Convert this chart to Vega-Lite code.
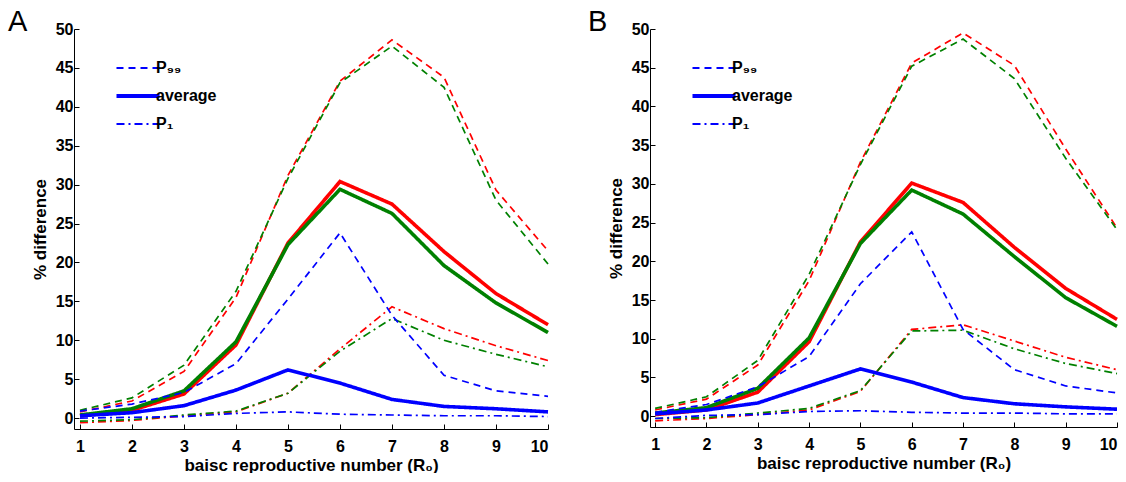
{
  "$schema": "https://vega.github.io/schema/vega-lite/v6.json",
  "padding": {"left": 8, "top": 8, "right": 0, "bottom": 0},
  "background": "white",
  "config": {
    "view": {"stroke": null},
    "font": "Liberation Sans",
    "axis": {
      "grid": false,
      "domainColor": "#000000",
      "tickColor": "#000000",
      "tickSize": -5,
      "labelColor": "#000000",
      "labelFont": "Liberation Sans",
      "labelFontSize": 16,
      "labelFontWeight": "bold",
      "titleFont": "Liberation Sans",
      "titleFontSize": 17,
      "titleFontWeight": "bold",
      "titleColor": "#000000"
    },
    "title": {"fontSize": 29, "fontWeight": "normal", "font": "Liberation Sans", "anchor": "start", "frame": "group", "color": "#000000", "baseline": "alphabetic"}
  },
  "datasets": {
    "A": [
      {"r": 1, "m": "red", "s": "P99", "v": 0.8}, {"r": 2, "m": "red", "s": "P99", "v": 2.2}, {"r": 3, "m": "red", "s": "P99", "v": 6.0}, {"r": 4, "m": "red", "s": "P99", "v": 15.5}, {"r": 5, "m": "red", "s": "P99", "v": 31.2}, {"r": 6, "m": "red", "s": "P99", "v": 43.3}, {"r": 7, "m": "red", "s": "P99", "v": 48.6}, {"r": 8, "m": "red", "s": "P99", "v": 43.8}, {"r": 9, "m": "red", "s": "P99", "v": 29.3}, {"r": 10, "m": "red", "s": "P99", "v": 21.5},
      {"r": 1, "m": "red", "s": "average", "v": 0.3}, {"r": 2, "m": "red", "s": "average", "v": 1.0}, {"r": 3, "m": "red", "s": "average", "v": 3.1}, {"r": 4, "m": "red", "s": "average", "v": 9.4}, {"r": 5, "m": "red", "s": "average", "v": 22.5}, {"r": 6, "m": "red", "s": "average", "v": 30.4}, {"r": 7, "m": "red", "s": "average", "v": 27.5}, {"r": 8, "m": "red", "s": "average", "v": 21.4}, {"r": 9, "m": "red", "s": "average", "v": 16.0}, {"r": 10, "m": "red", "s": "average", "v": 12.0},
      {"r": 1, "m": "red", "s": "P1", "v": -0.6}, {"r": 2, "m": "red", "s": "P1", "v": -0.3}, {"r": 3, "m": "red", "s": "P1", "v": 0.3}, {"r": 4, "m": "red", "s": "P1", "v": 0.8}, {"r": 5, "m": "red", "s": "P1", "v": 3.2}, {"r": 6, "m": "red", "s": "P1", "v": 8.9}, {"r": 7, "m": "red", "s": "P1", "v": 14.3}, {"r": 8, "m": "red", "s": "P1", "v": 11.5}, {"r": 9, "m": "red", "s": "P1", "v": 9.3}, {"r": 10, "m": "red", "s": "P1", "v": 7.4},
      {"r": 1, "m": "green", "s": "P99", "v": 1.0}, {"r": 2, "m": "green", "s": "P99", "v": 2.6}, {"r": 3, "m": "green", "s": "P99", "v": 6.8}, {"r": 4, "m": "green", "s": "P99", "v": 16.3}, {"r": 5, "m": "green", "s": "P99", "v": 30.8}, {"r": 6, "m": "green", "s": "P99", "v": 43.1}, {"r": 7, "m": "green", "s": "P99", "v": 47.8}, {"r": 8, "m": "green", "s": "P99", "v": 42.5}, {"r": 9, "m": "green", "s": "P99", "v": 28.0}, {"r": 10, "m": "green", "s": "P99", "v": 19.8},
      {"r": 1, "m": "green", "s": "average", "v": 0.4}, {"r": 2, "m": "green", "s": "average", "v": 1.2}, {"r": 3, "m": "green", "s": "average", "v": 3.5}, {"r": 4, "m": "green", "s": "average", "v": 9.8}, {"r": 5, "m": "green", "s": "average", "v": 22.3}, {"r": 6, "m": "green", "s": "average", "v": 29.4}, {"r": 7, "m": "green", "s": "average", "v": 26.3}, {"r": 8, "m": "green", "s": "average", "v": 19.6}, {"r": 9, "m": "green", "s": "average", "v": 14.8}, {"r": 10, "m": "green", "s": "average", "v": 11.0},
      {"r": 1, "m": "green", "s": "P1", "v": -0.4}, {"r": 2, "m": "green", "s": "P1", "v": -0.2}, {"r": 3, "m": "green", "s": "P1", "v": 0.4}, {"r": 4, "m": "green", "s": "P1", "v": 0.9}, {"r": 5, "m": "green", "s": "P1", "v": 3.2}, {"r": 6, "m": "green", "s": "P1", "v": 8.6}, {"r": 7, "m": "green", "s": "P1", "v": 12.8}, {"r": 8, "m": "green", "s": "P1", "v": 10.0}, {"r": 9, "m": "green", "s": "P1", "v": 8.2}, {"r": 10, "m": "green", "s": "P1", "v": 6.6},
      {"r": 1, "m": "blue", "s": "P99", "v": 0.9}, {"r": 2, "m": "blue", "s": "P99", "v": 1.8}, {"r": 3, "m": "blue", "s": "P99", "v": 3.3}, {"r": 4, "m": "blue", "s": "P99", "v": 7.0}, {"r": 5, "m": "blue", "s": "P99", "v": 15.3}, {"r": 6, "m": "blue", "s": "P99", "v": 23.8}, {"r": 7, "m": "blue", "s": "P99", "v": 13.2}, {"r": 8, "m": "blue", "s": "P99", "v": 5.5}, {"r": 9, "m": "blue", "s": "P99", "v": 3.5}, {"r": 10, "m": "blue", "s": "P99", "v": 2.8},
      {"r": 1, "m": "blue", "s": "average", "v": 0.3}, {"r": 2, "m": "blue", "s": "average", "v": 0.7}, {"r": 3, "m": "blue", "s": "average", "v": 1.6}, {"r": 4, "m": "blue", "s": "average", "v": 3.6}, {"r": 5, "m": "blue", "s": "average", "v": 6.2}, {"r": 6, "m": "blue", "s": "average", "v": 4.5}, {"r": 7, "m": "blue", "s": "average", "v": 2.4}, {"r": 8, "m": "blue", "s": "average", "v": 1.5}, {"r": 9, "m": "blue", "s": "average", "v": 1.2}, {"r": 10, "m": "blue", "s": "average", "v": 0.8},
      {"r": 1, "m": "blue", "s": "P1", "v": 0.0}, {"r": 2, "m": "blue", "s": "P1", "v": 0.1}, {"r": 3, "m": "blue", "s": "P1", "v": 0.2}, {"r": 4, "m": "blue", "s": "P1", "v": 0.6}, {"r": 5, "m": "blue", "s": "P1", "v": 0.8}, {"r": 6, "m": "blue", "s": "P1", "v": 0.5}, {"r": 7, "m": "blue", "s": "P1", "v": 0.4}, {"r": 8, "m": "blue", "s": "P1", "v": 0.3}, {"r": 9, "m": "blue", "s": "P1", "v": 0.3}, {"r": 10, "m": "blue", "s": "P1", "v": 0.2}
    ],
    "B": [
      {"r": 1, "m": "red", "s": "P99", "v": 0.8}, {"r": 2, "m": "red", "s": "P99", "v": 2.2}, {"r": 3, "m": "red", "s": "P99", "v": 6.6}, {"r": 4, "m": "red", "s": "P99", "v": 17.5}, {"r": 5, "m": "red", "s": "P99", "v": 32.8}, {"r": 6, "m": "red", "s": "P99", "v": 45.6}, {"r": 7, "m": "red", "s": "P99", "v": 49.5}, {"r": 8, "m": "red", "s": "P99", "v": 45.3}, {"r": 9, "m": "red", "s": "P99", "v": 34.5}, {"r": 10, "m": "red", "s": "P99", "v": 24.3},
      {"r": 1, "m": "red", "s": "average", "v": 0.2}, {"r": 2, "m": "red", "s": "average", "v": 0.8}, {"r": 3, "m": "red", "s": "average", "v": 3.1}, {"r": 4, "m": "red", "s": "average", "v": 9.6}, {"r": 5, "m": "red", "s": "average", "v": 22.5}, {"r": 6, "m": "red", "s": "average", "v": 30.1}, {"r": 7, "m": "red", "s": "average", "v": 27.6}, {"r": 8, "m": "red", "s": "average", "v": 21.8}, {"r": 9, "m": "red", "s": "average", "v": 16.5}, {"r": 10, "m": "red", "s": "average", "v": 12.5},
      {"r": 1, "m": "red", "s": "P1", "v": -0.6}, {"r": 2, "m": "red", "s": "P1", "v": -0.3}, {"r": 3, "m": "red", "s": "P1", "v": 0.2}, {"r": 4, "m": "red", "s": "P1", "v": 0.8}, {"r": 5, "m": "red", "s": "P1", "v": 3.2}, {"r": 6, "m": "red", "s": "P1", "v": 11.2}, {"r": 7, "m": "red", "s": "P1", "v": 11.8}, {"r": 8, "m": "red", "s": "P1", "v": 9.7}, {"r": 9, "m": "red", "s": "P1", "v": 7.6}, {"r": 10, "m": "red", "s": "P1", "v": 6.0},
      {"r": 1, "m": "green", "s": "P99", "v": 1.0}, {"r": 2, "m": "green", "s": "P99", "v": 2.5}, {"r": 3, "m": "green", "s": "P99", "v": 7.2}, {"r": 4, "m": "green", "s": "P99", "v": 18.3}, {"r": 5, "m": "green", "s": "P99", "v": 32.5}, {"r": 6, "m": "green", "s": "P99", "v": 45.2}, {"r": 7, "m": "green", "s": "P99", "v": 48.7}, {"r": 8, "m": "green", "s": "P99", "v": 43.6}, {"r": 9, "m": "green", "s": "P99", "v": 33.3}, {"r": 10, "m": "green", "s": "P99", "v": 24.1},
      {"r": 1, "m": "green", "s": "average", "v": 0.4}, {"r": 2, "m": "green", "s": "average", "v": 1.1}, {"r": 3, "m": "green", "s": "average", "v": 3.6}, {"r": 4, "m": "green", "s": "average", "v": 10.1}, {"r": 5, "m": "green", "s": "average", "v": 22.3}, {"r": 6, "m": "green", "s": "average", "v": 29.2}, {"r": 7, "m": "green", "s": "average", "v": 26.1}, {"r": 8, "m": "green", "s": "average", "v": 20.6}, {"r": 9, "m": "green", "s": "average", "v": 15.3}, {"r": 10, "m": "green", "s": "average", "v": 11.6},
      {"r": 1, "m": "green", "s": "P1", "v": -0.3}, {"r": 2, "m": "green", "s": "P1", "v": -0.2}, {"r": 3, "m": "green", "s": "P1", "v": 0.4}, {"r": 4, "m": "green", "s": "P1", "v": 1.0}, {"r": 5, "m": "green", "s": "P1", "v": 3.3}, {"r": 6, "m": "green", "s": "P1", "v": 11.0}, {"r": 7, "m": "green", "s": "P1", "v": 11.1}, {"r": 8, "m": "green", "s": "P1", "v": 8.7}, {"r": 9, "m": "green", "s": "P1", "v": 6.8}, {"r": 10, "m": "green", "s": "P1", "v": 5.5},
      {"r": 1, "m": "blue", "s": "P99", "v": 0.5}, {"r": 2, "m": "blue", "s": "P99", "v": 1.5}, {"r": 3, "m": "blue", "s": "P99", "v": 3.8}, {"r": 4, "m": "blue", "s": "P99", "v": 7.7}, {"r": 5, "m": "blue", "s": "P99", "v": 17.1}, {"r": 6, "m": "blue", "s": "P99", "v": 23.8}, {"r": 7, "m": "blue", "s": "P99", "v": 11.2}, {"r": 8, "m": "blue", "s": "P99", "v": 6.0}, {"r": 9, "m": "blue", "s": "P99", "v": 3.9}, {"r": 10, "m": "blue", "s": "P99", "v": 3.0},
      {"r": 1, "m": "blue", "s": "average", "v": 0.3}, {"r": 2, "m": "blue", "s": "average", "v": 0.8}, {"r": 3, "m": "blue", "s": "average", "v": 1.7}, {"r": 4, "m": "blue", "s": "average", "v": 3.9}, {"r": 5, "m": "blue", "s": "average", "v": 6.1}, {"r": 6, "m": "blue", "s": "average", "v": 4.4}, {"r": 7, "m": "blue", "s": "average", "v": 2.4}, {"r": 8, "m": "blue", "s": "average", "v": 1.6}, {"r": 9, "m": "blue", "s": "average", "v": 1.2}, {"r": 10, "m": "blue", "s": "average", "v": 0.9},
      {"r": 1, "m": "blue", "s": "P1", "v": -0.3}, {"r": 2, "m": "blue", "s": "P1", "v": 0.1}, {"r": 3, "m": "blue", "s": "P1", "v": 0.2}, {"r": 4, "m": "blue", "s": "P1", "v": 0.6}, {"r": 5, "m": "blue", "s": "P1", "v": 0.7}, {"r": 6, "m": "blue", "s": "P1", "v": 0.5}, {"r": 7, "m": "blue", "s": "P1", "v": 0.4}, {"r": 8, "m": "blue", "s": "P1", "v": 0.4}, {"r": 9, "m": "blue", "s": "P1", "v": 0.3}, {"r": 10, "m": "blue", "s": "P1", "v": 0.3}
    ]
  },
  "hconcat": [
    {
      "data": {"name": "A"},
      "title": {"text": "A", "dx": -66, "dy": 12, "offset": -4},
      "width": 474,
      "height": 400,
      "mark": {"type": "line"},
      "encoding": {
        "x": {"field": "r", "type": "quantitative", "scale": {"domain": [0.885, 10], "nice": false, "zero": false}, "axis": {"values": [1,2,3,4,5,6,7,8,9,10], "title": "baisc reproductive number (R₀)", "labelPadding": 14, "titlePadding": 3}},
        "y": {"field": "v", "type": "quantitative", "scale": {"domain": [-1.4, 50], "nice": false, "zero": false}, "axis": {"values": [0,5,10,15,20,25,30,35,40,45,50], "title": "% difference", "labelPadding": 6, "titlePadding": 6}},
        "color": {"field": "m", "type": "nominal", "scale": {"domain": ["red","green","blue"], "range": ["#ff0000","#008000","#0000ff"]}, "legend": null},
        "strokeDash": {"field": "s", "type": "nominal", "scale": {"domain": ["P99","average","P1"], "range": [[7,5],[1,0],[8,4,2,4]]}, "legend": {"title": null, "orient": "none", "legendX": 56, "legendY": 31, "symbolStrokeColor": "#0000ff", "symbolSize": 1850, "symbolStrokeWidth": 1.8, "labelFontSize": 16, "labelFontWeight": "bold", "labelFont": "Liberation Sans", "labelColor": "#000000", "labelOffset": 10, "rowPadding": 12, "padding": 0, "labelExpr": "datum.label == 'P99' ? 'P₉₉' : datum.label == 'P1' ? 'P₁' : datum.label", "encode": {"symbols": {"update": {"strokeWidth": {"signal": "datum.value == 'average' ? 4 : 1.8"}}}}}},
        "strokeWidth": {"condition": {"test": "datum.s == 'average'", "value": 3.6}, "value": 1.7}
      }
    },
    {
      "data": {"name": "B"},
      "title": {"text": "B", "dx": -62, "dy": 12, "offset": -4},
      "width": 467,
      "height": 398,
      "mark": {"type": "line"},
      "encoding": {
        "x": {"field": "r", "type": "quantitative", "scale": {"domain": [0.9, 10], "nice": false, "zero": false}, "axis": {"values": [1,2,3,4,5,6,7,8,9,10], "title": "baisc reproductive number (R₀)", "labelPadding": 14, "titlePadding": 3}},
        "y": {"field": "v", "type": "quantitative", "scale": {"domain": [-1.4, 50], "nice": false, "zero": false}, "axis": {"values": [0,5,10,15,20,25,30,35,40,45,50], "title": "% difference", "labelPadding": 6, "titlePadding": 6}},
        "color": {"field": "m", "type": "nominal", "scale": {"domain": ["red","green","blue"], "range": ["#ff0000","#008000","#0000ff"]}, "legend": null},
        "strokeDash": {"field": "s", "type": "nominal", "scale": {"domain": ["P99","average","P1"], "range": [[7,5],[1,0],[8,4,2,4]]}, "legend": {"title": null, "orient": "none", "legendX": 56, "legendY": 31, "symbolStrokeColor": "#0000ff", "symbolSize": 1850, "symbolStrokeWidth": 1.8, "labelFontSize": 16, "labelFontWeight": "bold", "labelFont": "Liberation Sans", "labelColor": "#000000", "labelOffset": 10, "rowPadding": 12, "padding": 0, "labelExpr": "datum.label == 'P99' ? 'P₉₉' : datum.label == 'P1' ? 'P₁' : datum.label", "encode": {"symbols": {"update": {"strokeWidth": {"signal": "datum.value == 'average' ? 4 : 1.8"}}}}}},
        "strokeWidth": {"condition": {"test": "datum.s == 'average'", "value": 3.6}, "value": 1.7}
      }
    }
  ],
  "spacing": 32,
  "resolve": {
    "scale": {"x": "independent", "y": "independent", "color": "independent", "strokeDash": "independent"},
    "legend": {"strokeDash": "independent", "color": "independent"}
  }
}
